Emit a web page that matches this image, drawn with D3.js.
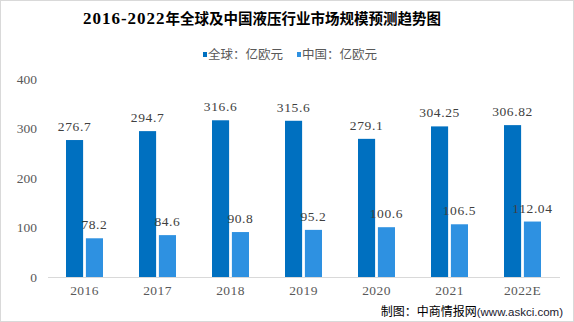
<!DOCTYPE html>
<html><head><meta charset="utf-8">
<script src="https://cdn.jsdelivr.net/npm/d3@7"></script>
<style>
html,body{margin:0;padding:0;background:#fff;}
svg{display:block;}
</style></head>
<body>
<svg id="chart" width="574" height="322"></svg>
<script>
const categories = ["2016","2017","2018","2019","2020","2021","2022E"];
const globalValues = [276.7, 294.7, 316.6, 315.6, 279.1, 304.25, 306.82];
const chinaValues = [78.2, 84.6, 90.8, 95.2, 100.6, 106.5, 112.04];
const globalLabels = ["276.7","294.7","316.6","315.6","279.1","304.25","306.82"];
const chinaLabels = ["78.2","84.6","90.8","95.2","100.6","106.5","112.04"];
const seriesNames = ["全球：亿欧元","中国：亿欧元"];
const yTicks = [0,100,200,300,400];
const titleYears = "2016-2022";
const titleText = "年全球及中国液压行业市场规模预测趋势图";
const sourceText = "制图：中商情报网";
const sourceUrl = "(www.askci.com)";

const colors = ["#0070C0", "#2E91E1"];
const svg = d3.select("#chart");
const W = 574, H = 322;
const numFont = "'Liberation Serif', serif";

svg.append("rect").attr("x",0.5).attr("y",0.5).attr("width",W-1).attr("height",H-1)
  .attr("fill","#fff").attr("stroke","#d9d9d9");

const x = d3.scaleBand().domain(categories).range([48, 559]).paddingInner(0).paddingOuter(0);
const y = d3.scaleLinear().domain([0,400]).range([277, 79]);
const sub = d3.scaleBand().domain([0,1]).range([18, 55]).paddingInner(0.14);

// title
const t = svg.append("text").attr("x", 262).attr("y", 24).attr("text-anchor","middle")
  .attr("font-weight","bold").attr("fill","#000");
t.append("tspan").attr("font-family","'Liberation Serif', serif").attr("font-size","17px")
  .attr("letter-spacing","1px").text(titleYears);
t.append("tspan").attr("font-family","'Noto Sans CJK SC', sans-serif").attr("font-size","14.5px").text(titleText);

// legend
const legX = [203, 297];
seriesNames.forEach((n,i)=>{
  svg.append("rect").attr("x",legX[i]).attr("y",52).attr("width",4).attr("height",5).attr("fill",colors[i]);
  svg.append("text").attr("x",legX[i]+5).attr("y",59).attr("font-family","'Noto Sans CJK SC', sans-serif")
    .attr("font-size","12.5px").attr("fill","#595959").text(n);
});

// y ticks labels
svg.append("g").selectAll("text").data(yTicks).join("text")
  .attr("x",37).attr("y",d=>y(d)+4.5).attr("text-anchor","end")
  .attr("font-family",numFont).attr("font-size","13.5px").attr("fill","#595959")
  .text(d=>d);

// baseline
svg.append("line").attr("x1",48).attr("x2",560).attr("y1",y(0)+0.5).attr("y2",y(0)+0.5)
  .attr("stroke","#d9d9d9").attr("stroke-width",1);

// bars
const series = [globalValues, chinaValues];
const labels = [globalLabels, chinaLabels];
series.forEach((vals,si)=>{
  const g = svg.append("g");
  g.selectAll("rect").data(vals).join("rect")
    .attr("x",(d,i)=>x(categories[i])+sub(si))
    .attr("y",d=>y(d)).attr("width",sub.bandwidth()).attr("height",d=>y(0)-y(d))
    .attr("fill",colors[si]);
  g.selectAll("text").data(vals).join("text")
    .attr("x",(d,i)=>x(categories[i])+sub(si)+sub.bandwidth()/2)
    .attr("y",d=>y(d)-9).attr("text-anchor","middle")
    .attr("font-family",numFont).attr("font-size","13.5px").attr("letter-spacing","0.6px").attr("fill","#404040")
    .text((d,i)=>labels[si][i]);
});

// x labels
svg.append("g").selectAll("text").data(categories).join("text")
  .attr("x",d=>x(d)+x.bandwidth()/2).attr("y",294.5).attr("text-anchor","middle")
  .attr("font-family",numFont).attr("font-size","13.5px").attr("letter-spacing","0.4px").attr("fill","#595959")
  .text(d=>d);

// source
const s = svg.append("text").attr("x",563).attr("y",316).attr("text-anchor","end").attr("fill","#000");
s.append("tspan").attr("font-family","'Noto Sans CJK SC', sans-serif").attr("font-size","12px").text(sourceText);
s.append("tspan").attr("font-family","'Liberation Sans', sans-serif").attr("font-size","11.5px").attr("fill","#1a1a2e").text(sourceUrl);
</script>
</body></html>
